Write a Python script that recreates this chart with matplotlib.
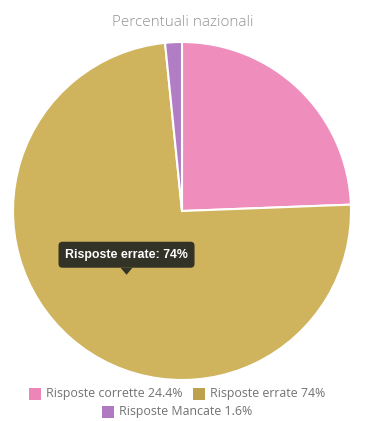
import matplotlib
matplotlib.use("Agg")
import matplotlib.pyplot as plt
from matplotlib.patches import Rectangle, FancyBboxPatch, Polygon
import numpy as np

labels = ["Risposte corrette", "Risposte errate", "Risposte Mancate"]
values = [24.4, 74.0, 1.6]
value_text = ["24.4%", "74%", "1.6%"]
pie_colors = ["#EF8DBD", "#CFB35D", "#B17DC4"]
legend_colors = ["#EC86B8", "#BDA14C", "#B07AC2"]
title = "Percentuali nazionali"
hover_index = 1

W, H = 371, 421
fig = plt.figure(figsize=(W / 100, H / 100), dpi=100)
fig.patch.set_facecolor("white")

plt.rcParams["font.family"] = ["Open Sans", "DejaVu Sans"]

# pie axes: centre (182, 211) px, radius 169 px
cx, cy, r = 182, 211, 169
ax = fig.add_axes([(cx - r) / W, (H - cy - r) / H, 2 * r / W, 2 * r / H])
ax.axis("off")
ax.pie(values, colors=pie_colors, startangle=90, counterclock=False, radius=1.0,
       wedgeprops=dict(edgecolor="white", linewidth=1.5))
ax.set_xlim(-1, 1)
ax.set_ylim(-1, 1)
ax.set_aspect("equal")

# overlay in pixel coordinates
ov = fig.add_axes([0, 0, 1, 1], zorder=5)
ov.set_xlim(0, W)
ov.set_ylim(H, 0)
ov.axis("off")
ov.patch.set_alpha(0)

ov.text(W / 2 - 3, 22, title, ha="center", va="center", fontsize=11,
        fontweight="light", color="#939393")

# tooltip anchored at the centroid of the hovered slice
start = sum(values[:hover_index]) / sum(values)
mid = start + values[hover_index] / sum(values) / 2
ang = np.deg2rad(90 - mid * 360)
tip_data = (0.5 * np.cos(ang), 0.5 * np.sin(ang))
disp = ax.transData.transform(tip_data)
tx, ty = disp[0], H - disp[1]

bw, bh, caret = 136, 26, 7
box = FancyBboxPatch((tx - bw / 2, ty - caret - bh), bw, bh,
                     boxstyle="round,pad=0,rounding_size=4",
                     fc="#2b2b24", ec="none", alpha=0.95, zorder=6)
ov.add_patch(box)
ov.add_patch(Polygon([(tx - 6, ty - caret), (tx + 6, ty - caret), (tx, ty)],
                     closed=True, fc="#2b2b24", ec="none", alpha=0.95, zorder=6))
ov.text(tx, ty - caret - bh / 2, f"{labels[hover_index]}: {value_text[hover_index]}",
        ha="center", va="center", fontsize=8.9, fontweight="bold", color="white", zorder=7,
        family=["Liberation Sans", "DejaVu Sans"])

# legend, two centred rows
rows = [[0, 1], [2]]
row_y = [394, 412]
legend_cx = 177
fs = 8.9
sw = 12
gap_sw = 5
gap_item = 11
renderer = fig.canvas.get_renderer()
for row, y in zip(rows, row_y):
    items = []
    for i in row:
        t = ov.text(0, y, f"{labels[i]} {value_text[i]}", fontsize=fs, color="#727272",
                    ha="left", va="center")
        w = t.get_window_extent(renderer).width
        items.append((i, t, w))
    total = sum(sw + gap_sw + w for _, _, w in items) + gap_item * (len(items) - 1)
    x = legend_cx - total / 2
    for i, t, w in items:
        ov.add_patch(Rectangle((x, y - sw / 2), sw, sw, fc=legend_colors[i], ec="none"))
        t.set_x(x + sw + gap_sw)
        x += sw + gap_sw + w + gap_item

fig.savefig("out.png", dpi=100, facecolor="white")
